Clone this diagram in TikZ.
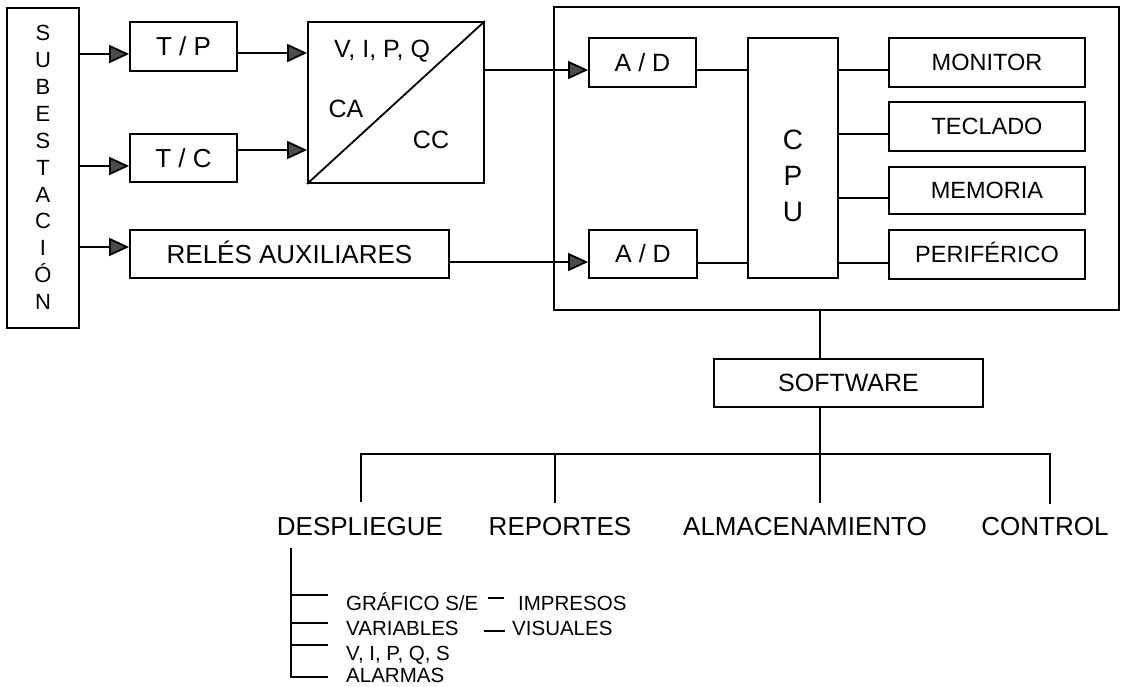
\documentclass[tikz,border=0pt]{standalone}
\usepackage{fontspec}
\setmainfont{Liberation Sans}
\usetikzlibrary{arrows.meta}
\begin{document}
\begin{tikzpicture}[x=1pt,y=-1pt,
  box/.style={draw, line width=1.8pt, inner sep=0pt, text depth=0pt},
  fa/.style={font=\fontsize{26}{30}\selectfont, text height=18.6pt},
  fb/.style={font=\fontsize{25}{30}\selectfont, text height=17.9pt},
  fc/.style={font=\fontsize{23.5}{28}\selectfont, text height=16.8pt},
  lbl/.style={inner sep=0pt, text depth=0pt},
  conn/.style={line width=1.8pt},
  arr/.style={conn, -{Triangle[length=20pt,width=18pt,fill=black!70]}},
  big/.style={font=\fontsize{26}{30}\selectfont, inner sep=0pt, anchor=base},
  small/.style={font=\fontsize{20.5}{24}\selectfont, inner sep=0pt, anchor=base west}
]
\useasboundingbox (0,0) rectangle (1121,687);
\fill[white] (0,0) rectangle (1121,687);

% left column
\node[box, minimum width=72pt, minimum height=320pt] (sub) at (43,168) {};
\node[lbl, font=\fontsize{22}{26.9}\selectfont, align=center] (subt) at (43,167.5)
  {S\\U\\B\\E\\S\\T\\A\\C\\I\\Ó\\N};

\node[box, fa, minimum width=107pt, minimum height=49pt] (tp) at (183.5,46.5) {T / P};
\node[box, fa, minimum width=107pt, minimum height=48pt] (tc) at (183.5,158) {T / C};
\node[box, minimum width=176pt, minimum height=161pt] (conv) at (396,102.5) {};
\draw[conn] (conv.south west) -- (conv.north east);
\node[lbl, fb] (vipq) at (382,48.5) {V, I, P, Q};
\node[lbl, fb] (ca) at (346,108.7) {CA};
\node[lbl, fb] (cc) at (431,140) {CC};
\node[box, fa, minimum width=319pt, minimum height=48pt] (rel) at (289.5,254) {RELÉS AUXILIARES};

% computer box
\node[box, minimum width=565pt, minimum height=303pt] (bigbox) at (836.5,158.5) {};
\node[box, fb, minimum width=107pt, minimum height=49pt] (ad1) at (642.5,62.5) {A / D};
\node[box, fb, minimum width=108pt, minimum height=48pt] (ad2) at (643,254) {A / D};
\node[box, minimum width=90pt, minimum height=240pt] (cpu) at (793,158) {};
\node[lbl, font=\fontsize{28}{36}\selectfont, align=center] (cput) at (793,176) {C\\P\\U};
\node[box, fc, minimum width=196pt, minimum height=49pt] (mon) at (987,62.5) {MONITOR};
\node[box, fc, minimum width=196pt, minimum height=49pt] (tec) at (987,126.5) {TECLADO};
\node[box, fc, minimum width=196pt, minimum height=47pt] (mem) at (987,190.5) {MEMORIA};
\node[box, fc, minimum width=196pt, minimum height=49pt] (per) at (987,254.5) {PERIFÉRICO};

% software
\node[box, fb, minimum width=269pt, minimum height=48pt] (sw) at (848.5,383) {SOFTWARE};

% bottom labels
\node[big] (desp) at (360,535) {DESPLIEGUE};
\node[big] (rep) at (560,535) {REPORTES};
\node[big] (alm) at (805,535) {ALMACENAMIENTO};
\node[big] (ctl) at (1045,535) {CONTROL};

% sub items
\node[small] (gra) at (346,610) {GRÁFICO S/E};
\node[small] (var) at (346,635) {VARIABLES};
\node[small] (vipqs) at (346,660) {V, I, P, Q, S};
\node[small] (ala) at (346,682) {ALARMAS};
\node[small] (imp) at (518,610) {IMPRESOS};
\node[small] (vis) at (512,635) {VISUALES};

% connectors left
\draw[arr] (sub.east |- 0,54) -- (tp.west |- 0,54);
\draw[arr] (sub.east |- 0,166) -- (tc.west |- 0,166);
\draw[arr] (sub.east |- 0,247) -- (rel.west |- 0,247);
\draw[arr] (tp.east |- 0,53) -- (conv.west |- 0,53);
\draw[arr] (tc.east |- 0,150) -- (conv.west |- 0,150);
\draw[arr] (conv.east |- 0,70) -- (ad1.west |- 0,70);
\draw[arr] (rel.east |- 0,262) -- (ad2.west |- 0,262);

% connectors inside
\draw[conn] (ad1.east |- 0,70) -- (cpu.west |- 0,70);
\draw[conn] (ad2.east |- 0,263) -- (cpu.west |- 0,263);
\draw[conn] (cpu.east |- 0,70) -- (mon.west |- 0,70);
\draw[conn] (cpu.east |- 0,134) -- (tec.west |- 0,134);
\draw[conn] (cpu.east |- 0,198) -- (mem.west |- 0,198);
\draw[conn] (cpu.east |- 0,263) -- (per.west |- 0,263);

% tree
\coordinate (b1) at (361,454);
\coordinate (b2) at (555,454);
\coordinate (b3) at (820,454);
\coordinate (b4) at (1050,454);
\coordinate (d1) at (361,502);
\coordinate (d2) at (555,503);
\coordinate (d3) at (820,503);
\coordinate (d4) at (1050,504);
\draw[conn] (bigbox.south -| b3) -- (sw.north -| b3);
\draw[conn] (sw.south -| b3) -- (d3);
\draw[conn] (d1) -- (b1) -- (b4) -- (d4);
\draw[conn] (b2) -- (d2);

% sub tree
\coordinate (s0) at (290.7,548);
\coordinate (e1) at (328,595);
\coordinate (e2) at (328,622.7);
\coordinate (e3) at (328,645);
\coordinate (e4) at (328,676.7);
\draw[conn] (s0) |- (e4);
\draw[conn] (s0 |- e1) -- (e1);
\draw[conn] (s0 |- e2) -- (e2);
\draw[conn] (s0 |- e3) -- (e3);
\coordinate (g1) at (488,598);
\coordinate (g2) at (504,598);
\coordinate (h1) at (484,631);
\coordinate (h2) at (505,631);
\draw[conn] (g1) -- (g2);
\draw[conn] (h1) -- (h2);
\end{tikzpicture}
\end{document}
